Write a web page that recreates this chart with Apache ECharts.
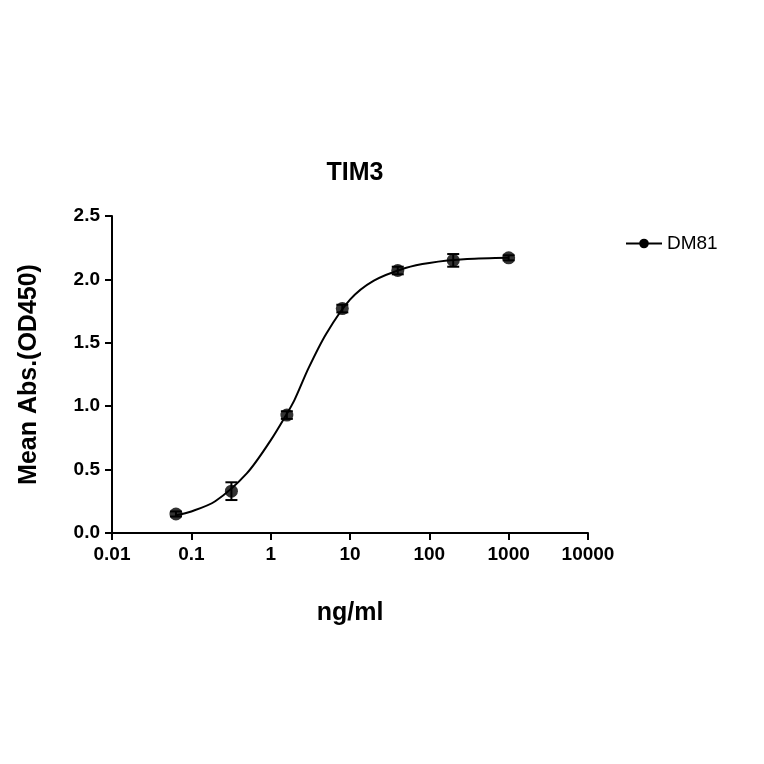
<!DOCTYPE html><html><head><meta charset="utf-8"><script src="https://cdn.jsdelivr.net/npm/echarts@6/dist/echarts.min.js"></script></head><body style="margin:0"><div id="c" style="width:764px;height:764px"></div><script>
const xVals=[0.064,0.32,1.6,8,40,200,1000];
const yVals=[0.15,0.33,0.93,1.77,2.07,2.15,2.17];
const yErr=[0.02,0.07,0.03,0.03,0.03,0.05,0.02];
const curveX=[0.064,0.1,0.2,0.5,1,1.5,2,3,5,10,20,50,100,300,1000];
const curveY=[0.14,0.17,0.25,0.47,0.73,0.91,1.05,1.3,1.57,1.84,1.99,2.09,2.13,2.16,2.17];
const xTicks=['0.01','0.1','1','10','100','1000','10000'];
const F='Liberation Sans, Arial, sans-serif';
const chart=echarts.init(document.getElementById('c'));
chart.setOption({
 animation:false,
 title:{text:'TIM3',left:350,top:156,textAlign:'center',textStyle:{fontFamily:F,fontSize:25,fontWeight:'bold',color:'#000'}},
 legend:{left:620,top:229,itemWidth:36,itemHeight:12,textStyle:{fontFamily:F,fontSize:19,color:'#000'},data:['DM81']},
 grid:{left:112,top:216,width:476,height:317},
 xAxis:{type:'log',logBase:10,min:0.01,max:10000,name:'ng/ml',nameLocation:'middle',nameGap:68,
  nameTextStyle:{fontFamily:F,fontSize:25,fontWeight:'bold',color:'#000'},
  axisLine:{lineStyle:{color:'#000',width:2}},axisTick:{lineStyle:{color:'#000',width:2},length:7},
  splitLine:{show:false},minorTick:{show:false},
  axisLabel:{fontFamily:F,fontSize:19,fontWeight:'bold',color:'#000',margin:12,formatter:v=>{const i=Math.round(Math.log10(v))+2;return xTicks[i]||'';}}},
 yAxis:{type:'value',min:0,max:2.5,interval:0.5,name:'Mean Abs.(OD450)',nameLocation:'middle',nameGap:70,
  nameTextStyle:{fontFamily:F,fontSize:25,fontWeight:'bold',color:'#000'},
  axisLine:{show:true,lineStyle:{color:'#000',width:2}},axisTick:{show:true,lineStyle:{color:'#000',width:2},length:7},
  splitLine:{show:false},
  axisLabel:{fontFamily:F,fontSize:19,fontWeight:'bold',color:'#000',margin:12,formatter:v=>v.toFixed(1)}},
 series:[
  {name:'DM81',type:'line',data:curveX.map((x,i)=>[x,curveY[i]]),smooth:0.3,showSymbol:false,symbol:'circle',symbolSize:12,lineStyle:{color:'#000',width:2},itemStyle:{color:'#000'}},
  {name:'pts',type:'scatter',data:xVals.map((x,i)=>[x,yVals[i]]),symbol:'circle',symbolSize:13,itemStyle:{color:'#000'}},
  {type:'custom',data:xVals.map((x,i)=>[x,yVals[i]-yErr[i],yVals[i]+yErr[i]]),
   renderItem:(p,api)=>{const a=api.coord([api.value(0),api.value(1)]),b=api.coord([api.value(0),api.value(2)]);
    const s={stroke:'#000',lineWidth:2};
    return {type:'group',children:[
     {type:'line',shape:{x1:a[0],y1:a[1],x2:b[0],y2:b[1]},style:s},
     {type:'line',shape:{x1:a[0]-6,y1:a[1],x2:a[0]+6,y2:a[1]},style:s},
     {type:'line',shape:{x1:b[0]-6,y1:b[1],x2:b[0]+6,y2:b[1]},style:s}]};}}
 ]
});
</script></body></html>
